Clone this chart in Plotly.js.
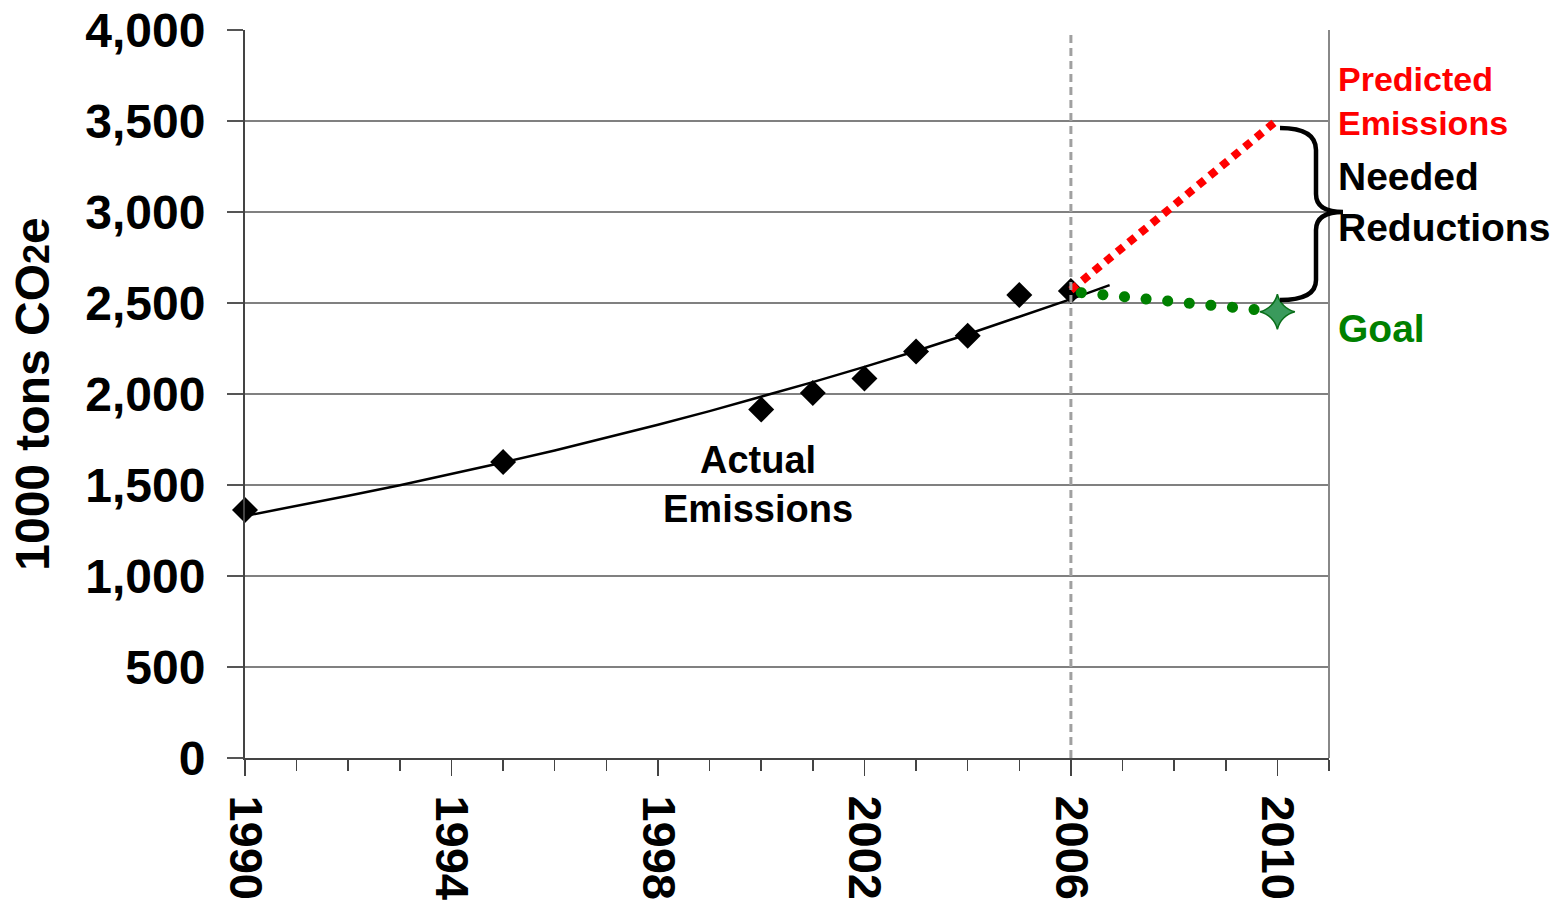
<!DOCTYPE html>
<html>
<head>
<meta charset="utf-8">
<script src="https://cdn.plot.ly/plotly-3.0.1.min.js"></script>
<style>
html,body{margin:0;padding:0;background:#fff;}
#chart{width:1562px;height:905px;}
</style>
</head>
<body>
<div id="chart"></div>
<script>
// Actual emissions (1000 tons CO2e)
const actualYears = [1990, 1995, 2000, 2001, 2002, 2003, 2004, 2005, 2006];
const actualValues = [1363, 1626, 1915, 2005, 2085, 2233, 2320, 2544, 2566];

// Trend line
const trendYears = [1990, 1991, 1992, 1993, 1994, 1995, 1996, 1997, 1998, 1999, 2000, 2001, 2002, 2003, 2004, 2005, 2006, 2006.75];
const trendValues = [1330, 1384, 1441, 1499, 1560, 1624, 1690, 1759, 1831, 1906, 1984, 2065, 2149, 2236, 2328, 2423, 2521, 2598];

// Predicted emissions
const predictedYears = [2006, 2010];
const predictedValues = [2571, 3505];

// Goal
const goalYears = [2006.2, 2010];
const goalValues = [2557, 2452];
const goalMarkerYear = [2010];
const goalMarkerValue = [2452];

const xTickVals = [1990, 1994, 1998, 2002, 2006, 2010];
const xTickText = ['1990', '1994', '1998', '2002', '2006', '2010'];
const yTickVals = [0, 500, 1000, 1500, 2000, 2500, 3000, 3500, 4000];

const FONT = 'Liberation Sans, Arial, Helvetica, sans-serif';

const L = 245, R = 1329, T = 30, B = 758;
const W = R - L, H = B - T;
const px = x => (x - L) / W;
const py = y => (B - y) / H;
const pt = (x, y) => px(x).toFixed(5) + ',' + py(y).toFixed(5);

const bracePath =
  'M ' + pt(1280, 128) +
  ' Q ' + pt(1316, 128) + ' ' + pt(1316, 150) +
  ' L ' + pt(1316, 194) +
  ' Q ' + pt(1316, 212) + ' ' + pt(1343, 212) +
  ' Q ' + pt(1316, 212) + ' ' + pt(1316, 230) +
  ' L ' + pt(1316, 280) +
  ' Q ' + pt(1316, 300) + ' ' + pt(1280, 300);

const traces = [
  {x: trendYears, y: trendValues, mode: 'lines', line: {color: '#000', width: 2.5}, cliponaxis: false, hoverinfo: 'skip'},
  {x: actualYears, y: actualValues, mode: 'markers', marker: {symbol: 'diamond', size: 20, color: '#000'}, cliponaxis: false},
  {x: predictedYears, y: predictedValues, mode: 'lines', line: {color: '#ff0000', width: 8, dash: '8px,7px'}, cliponaxis: false},
  {x: goalYears, y: goalValues, mode: 'lines', line: {color: '#008000', width: 11, dash: '0.1px,21.6px'}, cliponaxis: false},
  {x: goalMarkerYear, y: goalMarkerValue, mode: 'markers', marker: {symbol: 'star-diamond', size: 25, color: '#3a9a5c', line: {color: '#0a6f1a', width: 1.5}}, cliponaxis: false}
];

const layout = {
  width: 1562, height: 905,
  margin: {l: L, r: 1562 - R, t: T, b: 905 - B, pad: 0},
  paper_bgcolor: '#fff', plot_bgcolor: '#fff',
  showlegend: false,
  font: {family: FONT, color: '#000'},
  xaxis: {
    range: [1990, 2011], tickmode: 'array', tickvals: xTickVals, ticktext: xTickText,
    tickangle: 90, tickfont: {family: FONT, size: 47, weight: 700, color: '#000'},
    ticks: 'outside', ticklen: 16, tickwidth: 1.5, tickcolor: '#444',
    minor: {dtick: 1, tick0: 1990, ticks: 'outside', ticklen: 11, tickwidth: 1.5, tickcolor: '#444', showgrid: false},
    showgrid: false, zeroline: false, showline: true, linecolor: '#444', linewidth: 2,
    ticklabelstandoff: 10, fixedrange: true
  },
  yaxis: {
    range: [0, 4000], tickmode: 'array', tickvals: yTickVals, tickformat: ',d',
    tickfont: {family: FONT, size: 48, weight: 700, color: '#000'},
    ticks: 'outside', ticklen: 16, tickwidth: 1.5, tickcolor: '#555',
    showgrid: true, gridcolor: '#808080', gridwidth: 1.2,
    zeroline: false, showline: true, linecolor: '#444', linewidth: 2,
    ticklabelstandoff: 12,
    title: {text: '1000 tons CO<span style="font-size:36px">2</span>e', font: {family: FONT, size: 48, weight: 700, color: '#000'}, standoff: 20},
    fixedrange: true
  },
  shapes: [
    {type: 'line', xref: 'x', yref: 'paper', x0: 2006, x1: 2006, y0: 0, y1: 1, line: {color: '#a0a0a0', width: 3, dash: '8px,5px'}, layer: 'above'},
    {type: 'line', xref: 'paper', yref: 'paper', x0: 1, x1: 1, y0: 0, y1: 1, line: {color: '#888', width: 2}, layer: 'above'},
    {type: 'path', xref: 'paper', yref: 'paper', path: bracePath, line: {color: '#000', width: 4.5}, layer: 'above'}
  ],
  annotations: [
    {xref: 'paper', yref: 'paper', x: px(758), y: py(484), text: 'Actual<br>Emissions', showarrow: false, xanchor: 'center', yanchor: 'middle', align: 'center', font: {family: FONT, size: 38, weight: 700, color: '#000'}},
    {xref: 'paper', yref: 'paper', x: px(1336), y: py(101), text: 'Predicted<br>Emissions', showarrow: false, xanchor: 'left', yanchor: 'middle', align: 'left', font: {family: FONT, size: 34, weight: 700, color: '#ff0000'}},
    {xref: 'paper', yref: 'paper', x: px(1336), y: py(202), text: 'Needed<br>Reductions', showarrow: false, xanchor: 'left', yanchor: 'middle', align: 'left', font: {family: FONT, size: 39, weight: 700, color: '#000'}},
    {xref: 'paper', yref: 'paper', x: px(1336), y: py(328), text: 'Goal', showarrow: false, xanchor: 'left', yanchor: 'middle', align: 'left', font: {family: FONT, size: 39, weight: 700, color: '#008000'}}
  ]
};

Plotly.newPlot('chart', traces, layout, {displayModeBar: false, staticPlot: true}).then(function (gd) {
  const tr = gd.querySelectorAll('.scatterlayer .trace');
  if (tr[3]) {
    const p = tr[3].querySelector('.js-line');
    if (p) p.style.strokeLinecap = 'round';
  }
});
</script>
</body>
</html>
